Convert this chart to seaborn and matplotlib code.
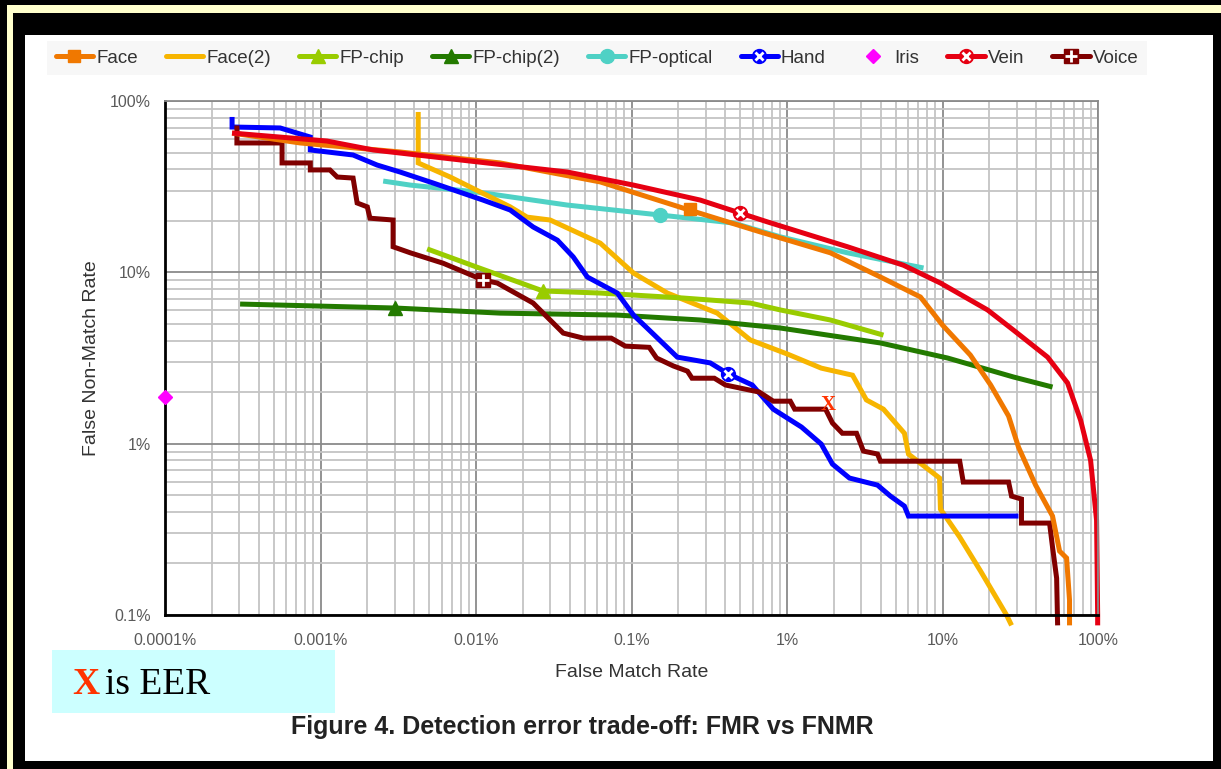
import numpy as np
import pandas as pd
import matplotlib
matplotlib.use("Agg")
import matplotlib.pyplot as plt
import seaborn as sns
from matplotlib.lines import Line2D
from matplotlib.patches import Rectangle
from matplotlib.ticker import FixedLocator, FuncFormatter, NullFormatter
from matplotlib.legend_handler import HandlerTuple

# all values in percent: FMR on x, FNMR on y
face_fmr = [2.7e-4, 7.4e-4, 3.25e-3, 0.0143, 0.063, 0.215, 0.675, 1.90, 3.99, 7.21,
            10.0, 15.1, 20.4, 26.6, 30.8, 39.7, 51.0, 56.6, 62.8, 65.6, 65.6]
face_fnmr = [65.0, 56.9, 50.4, 43.5, 33.7, 23.7, 17.2, 13.0, 9.39, 7.18,
             4.92, 3.29, 2.20, 1.45, 0.955, 0.573, 0.378, 0.236, 0.215, 0.122, 0.087]

face2_fmr = [4.25e-3, 4.25e-3, 6.82e-3, 0.0166, 0.0213, 0.030, 0.063, 0.103, 0.170, 0.356,
             0.581, 1.01, 1.66, 2.64, 3.24, 4.17, 5.69, 6.04, 9.57, 9.7,
             12.9, 17.6, 25.8, 27.8]
face2_fnmr = [86.3, 43.5, 36.0, 24.1, 21.0, 20.2, 14.8, 9.9, 7.57, 5.78,
              4.03, 3.33, 2.76, 2.51, 1.80, 1.59, 1.15, 0.87, 0.63, 0.415,
              0.285, 0.180, 0.1, 0.087]

fpchip_fmr = [4.85e-3, 0.0102, 0.027, 0.063, 0.215, 0.581, 0.908, 1.90, 4.17]
fpchip_fnmr = [13.7, 10.7, 7.78, 7.57, 7.08, 6.62, 6.03, 5.27, 4.30]

fpchip2_fmr = [3.04e-4, 3.02e-3, 0.0143, 0.081, 0.277, 0.908, 3.99, 10.8, 28.6, 51.0]
fpchip2_fnmr = [6.53, 6.19, 5.78, 5.63, 5.27, 4.73, 3.87, 3.16, 2.45, 2.14]

fpopt_fmr = [2.53e-3, 3.78e-3, 0.0102, 0.0386, 0.153, 0.452, 0.908, 2.45, 7.55]
fpopt_fnmr = [34.1, 32.3, 29.4, 24.7, 21.6, 19.4, 16.1, 13.0, 10.6]

hand_fmr = [2.7e-4, 2.7e-4, 5.5e-4, 8.6e-4, 8.6e-4, 1.62e-3, 2.31e-3, 3.25e-3, 5.31e-3, 0.0111,
            0.0166, 0.0233, 0.0334, 0.0422, 0.052, 0.081, 0.103, 0.130, 0.197, 0.321,
            0.420, 0.598, 0.816, 1.24, 1.66, 1.96, 2.52, 3.82, 4.63, 5.69,
            6.04, 30.8]
hand_fnmr = [80.7, 70.5, 69.6, 61.6, 51.8, 48.4, 42.3, 38.5, 33.2, 26.4,
             23.1, 18.4, 15.4, 12.3, 9.39, 7.57, 5.63, 4.60, 3.20, 2.96,
             2.55, 2.20, 1.59, 1.25, 0.995, 0.76, 0.63, 0.573, 0.494, 0.432,
             0.378, 0.378]

vein_fmr = [2.7e-4, 1.1e-3, 2.18e-3, 7.9e-3, 0.0386, 0.103, 0.277, 0.748, 2.45, 5.61,
            9.7, 19.5, 28.6, 47.4, 63.7, 77.3, 89.6, 97.9, 99.5, 99.5]
vein_fnmr = [65.0, 58.4, 51.8, 45.3, 38.5, 32.3, 26.4, 19.7, 14.1, 11.0,
             8.66, 6.03, 4.60, 3.20, 2.26, 1.37, 0.80, 0.358, 0.1, 0.087]

voice_fmr = [2.9e-4, 2.9e-4, 5.66e-4, 5.66e-4, 8.6e-4, 8.6e-4, 1.15e-3, 1.28e-3, 1.62e-3, 1.72e-3,
             2.0e-3, 2.08e-3, 2.93e-3, 2.93e-3, 3.78e-3, 6.15e-3, 0.0111, 0.0137, 0.0233, 0.0287,
             0.0364, 0.049, 0.0741, 0.0912, 0.130, 0.145, 0.186, 0.229, 0.245, 0.341,
             0.402, 0.664, 0.816, 1.05, 1.12, 1.77, 1.96, 2.27, 2.80, 3.10,
             3.82, 3.99, 12.9, 13.6, 26.6, 27.8, 32.2, 32.2, 48.8, 51.0,
             54.2, 55.0]
voice_fnmr = [72.0, 56.9, 56.9, 43.5, 43.5, 39.6, 39.6, 36.0, 35.5, 25.4,
              24.1, 20.7, 20.2, 14.1, 13.0, 11.3, 9.02, 8.66, 6.62, 5.48,
              4.42, 4.13, 4.13, 3.71, 3.65, 3.16, 2.84, 2.65, 2.41, 2.41,
              2.20, 2.0, 1.77, 1.77, 1.59, 1.59, 1.32, 1.15, 1.15, 0.905,
              0.87, 0.79, 0.79, 0.597, 0.597, 0.494, 0.475, 0.344, 0.344, 0.249,
              0.164, 0.087]

iris_fmr = [0.0001]
iris_fnmr = [1.87]

# one marker per curve, as in the original Excel chart
mark_series = ["Face", "FP-chip", "FP-chip(2)", "FP-optical", "Hand", "Vein", "Voice"]
mark_fmr = [0.239, 0.027, 3.02e-3, 0.153, 0.420, 0.50, 0.0111]
mark_fnmr = [23.5, 7.78, 6.19, 21.6, 2.55, 22.2, 9.02]

eer_fmr = 1.85
eer_fnmr = 1.68

decades = [0.0001, 0.001, 0.01, 0.1, 1, 10, 100]
fnmr_decades = [0.1, 1, 10, 100]

legend_order = ["Face", "Face(2)", "FP-chip", "FP-chip(2)", "FP-optical", "Hand", "Iris", "Vein", "Voice"]
draw_order = ["FP-optical", "Face(2)", "FP-chip", "FP-chip(2)", "Hand", "Voice", "Face", "Vein"]
colors = {"Face": "#F07800", "Face(2)": "#F7B500", "FP-chip": "#99CC00",
          "FP-chip(2)": "#237A00", "FP-optical": "#4FD1C5", "Hand": "#0000FF",
          "Iris": "#FF00FF", "Vein": "#E60012", "Voice": "#800000"}

series = {"Face": (face_fmr, face_fnmr), "Face(2)": (face2_fmr, face2_fnmr),
          "FP-chip": (fpchip_fmr, fpchip_fnmr), "FP-chip(2)": (fpchip2_fmr, fpchip2_fnmr),
          "FP-optical": (fpopt_fmr, fpopt_fnmr), "Hand": (hand_fmr, hand_fnmr),
          "Vein": (vein_fmr, vein_fnmr), "Voice": (voice_fmr, voice_fnmr)}
df = pd.concat([pd.DataFrame({"FMR": xs, "FNMR": ys, "series": name})
                for name, (xs, ys) in series.items()], ignore_index=True)

sns.set_style("white")
plt.rcParams["font.family"] = ["Liberation Sans", "DejaVu Sans"]

W, H = 1221, 769
fig = plt.figure(figsize=(W / 100, H / 100), dpi=100, facecolor="black")

# frame: yellow line, black band, white page
fig.add_artist(Rectangle((7 / W, -0.1), 1.2, 1.1 - 5 / H, transform=fig.transFigure,
                         facecolor="#FFFFCC", edgecolor="none", zorder=-10))
fig.add_artist(Rectangle((13 / W, -0.1), 1.2, 1.1 - 13 / H, transform=fig.transFigure,
                         facecolor="black", edgecolor="none", zorder=-9))
fig.add_artist(Rectangle((25 / W, 1 - 761 / H), (1213 - 25) / W, (761 - 35) / H,
                         transform=fig.transFigure, facecolor="white", edgecolor="none", zorder=-8))

ax = fig.add_axes([165 / W, 1 - 615 / H, (1098 - 165) / W, (615 - 101) / H])
ax.set_xscale("log")
ax.set_yscale("log")

sns.lineplot(data=df, x="FMR", y="FNMR", hue="series", hue_order=draw_order,
             palette=colors, sort=False, estimator=None, linewidth=3.6,
             legend=False, ax=ax)
for ln in ax.lines:
    ln.set_clip_on(False)
    ln.set_solid_joinstyle("miter")
    ln.set_solid_capstyle("butt")

def marker_style(name):
    c = colors[name]
    if name == "Face":
        return [dict(marker="s", ms=9, mfc=c, mec=c)]
    if name in ("FP-chip", "FP-chip(2)"):
        return [dict(marker="^", ms=10, mfc=c, mec=c)]
    if name == "FP-optical":
        return [dict(marker="o", ms=10, mfc=c, mec=c)]
    if name in ("Hand", "Vein"):
        return [dict(marker="o", ms=10, mfc=c, mec=c),
                dict(marker="x", ms=6, mew=2, mfc="white", mec="white")]
    if name == "Voice":
        return [dict(marker="s", ms=10, mfc=c, mec=c),
                dict(marker="+", ms=8, mew=2, mfc="white", mec="white")]
    return []

for name, mx, my in zip(mark_series, mark_fmr, mark_fnmr):
    for st in marker_style(name):
        ax.plot([mx], [my], ls="none", zorder=5, **st)

ax.plot(iris_fmr, iris_fnmr, ls="none", marker="D", ms=7, color=colors["Iris"],
        clip_on=False, zorder=6)

ax.text(eer_fmr, eer_fnmr, "X", color="#FF3300", fontsize=15, fontweight="bold",
        family=["Liberation Serif", "DejaVu Serif"], ha="center", va="center", zorder=7)

ax.set_xlim(1e-4, 100)
ax.set_ylim(0.1, 100)
minor_x = [m * d for d in decades[:-1] for m in range(2, 10)]
minor_y = [m * d for d in fnmr_decades[:-1] for m in range(2, 10)]
ax.xaxis.set_major_locator(FixedLocator(decades))
ax.xaxis.set_minor_locator(FixedLocator(minor_x))
ax.yaxis.set_major_locator(FixedLocator(fnmr_decades))
ax.yaxis.set_minor_locator(FixedLocator(minor_y))
pct = FuncFormatter(lambda v, _: f"{v:g}%")
ax.xaxis.set_major_formatter(pct)
ax.yaxis.set_major_formatter(pct)
ax.xaxis.set_minor_formatter(NullFormatter())
ax.yaxis.set_minor_formatter(NullFormatter())

ax.set_axisbelow(True)
ax.grid(which="major", color="#8a8a8a", linewidth=1.3)
ax.grid(which="minor", color="#c4c4c4", linewidth=1.3)
for side in ("left", "bottom"):
    ax.spines[side].set_color("black")
    ax.spines[side].set_linewidth(2)
for side in ("top", "right"):
    ax.spines[side].set_color("#8a8a8a")
    ax.spines[side].set_linewidth(1.3)

ax.tick_params(which="major", length=5, width=1.5, color="black",
               labelcolor="#5a5a5a", labelsize=11.5)
ax.tick_params(axis="x", which="major", pad=8)
ax.tick_params(axis="y", which="major", pad=5)
ax.tick_params(which="minor", length=0)

ax.set_xlabel("False Match Rate", fontsize=14, color="#333333")
ax.set_ylabel("False Non-Match Rate", fontsize=14, color="#333333")
ax.xaxis.set_label_coords(0.5, -0.096)
ax.yaxis.set_label_coords(-0.07, 0.5)

# legend strip at the top
handles = []
for name in legend_order:
    c = colors[name]
    if name == "Iris":
        handles.append(Line2D([], [], ls="none", marker="D", ms=7, color=c))
        continue
    base = Line2D([], [], color=c, lw=3.6)
    parts = [base]
    for st in marker_style(name):
        parts.append(Line2D([], [], ls="none", **st))
    handles.append(tuple(parts))

leg = fig.legend(handles, legend_order, loc="center", ncol=9,
                 bbox_to_anchor=(597 / W, 1 - 58 / H), bbox_transform=fig.transFigure,
                 handler_map={tuple: HandlerTuple(ndivide=1, pad=0)},
                 fontsize=13.5, handlelength=2.0, handletextpad=0.15, columnspacing=1.5,
                 borderpad=0.45, frameon=True, fancybox=False)
leg.get_frame().set_facecolor("#F6F6F6")
leg.get_frame().set_edgecolor("none")
for t in leg.get_texts():
    t.set_color("#333333")

# EER note box
fig.add_artist(Rectangle((52 / W, 1 - 713 / H), (335 - 52) / W, (713 - 650) / H,
                         transform=fig.transFigure, facecolor="#CCFFFF", edgecolor="none", zorder=1))
fig.text(72 / W, 1 - 685 / H, "X", color="#FF3300", fontsize=27, fontweight="bold",
         family=["Liberation Serif", "DejaVu Serif"], ha="left", va="center", zorder=2)
fig.text(105 / W, 1 - 685 / H, "is EER", color="black", fontsize=27,
         family=["Liberation Serif", "DejaVu Serif"], ha="left", va="center", zorder=2)

fig.text(582 / W, 1 - 727 / H, "Figure 4. Detection error trade-off: FMR vs FNMR",
         fontsize=18, fontweight="bold", color="#222222", ha="center", va="center")

fig.savefig("out.png", dpi=100, facecolor=fig.get_facecolor())
plt.close(fig)
